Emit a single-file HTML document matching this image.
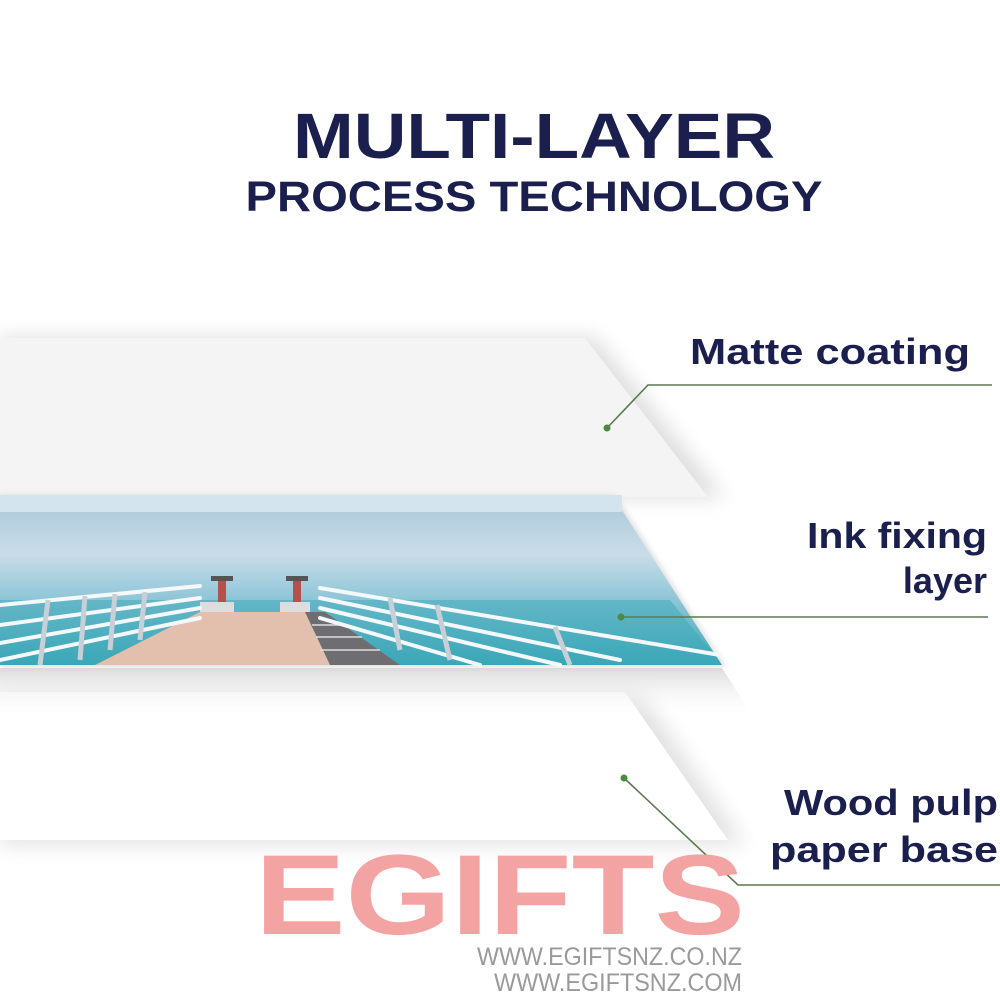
<!DOCTYPE html>
<html><head><meta charset="utf-8"><style>
html,body{margin:0;padding:0;background:#fff;}
svg{display:block}
</style></head><body>
<svg width="1000" height="1000" viewBox="0 0 1000 1000" xmlns="http://www.w3.org/2000/svg">
<defs>
<filter id="blur8" x="-20%" y="-20%" width="140%" height="140%"><feGaussianBlur stdDeviation="10"/></filter>
<filter id="blur3"><feGaussianBlur stdDeviation="3"/></filter>
<linearGradient id="sky" x1="0" y1="0" x2="0" y2="1">
<stop offset="0" stop-color="#a9c6d8"/><stop offset="0.35" stop-color="#c9dde8"/><stop offset="0.55" stop-color="#9ccbdc"/><stop offset="1" stop-color="#3aa7b8"/>
</linearGradient>
<linearGradient id="shadowg" x1="0" y1="0" x2="0" y2="1">
<stop offset="0" stop-color="#dcdcdc"/><stop offset="1" stop-color="#ffffff" stop-opacity="0"/>
</linearGradient>
</defs>
<polygon points="0,337 595,337 725,498 0,498" fill="#dedede" filter="url(#blur8)"/>
<polygon points="0,338 585,338 708,497 0,497" fill="#f4f4f4"/>
<polygon points="0,690 640,690 745,845 0,845" fill="#e2e2e2" filter="url(#blur8)"/>
<polygon points="0,692 625,692 728,840 0,840" fill="#ffffff"/>
<polygon points="0,668 722,668 754,718 0,718" fill="url(#shadowg)"/>
<polygon points="0,495 615,495 726,667 0,667" fill="#d0d0d0" filter="url(#blur3)" opacity="0.7"/>
<polygon points="0,495 612,495 722,665 0,665" fill="url(#sky)"/>
<rect x="0" y="495" width="622" height="17" fill="#d4e4ee"/>
<polygon points="0,600 670,600 722,665 0,665" fill="#3aa8b8" opacity="0.5"/>
<polygon points="200,612 310,612 330,665 95,665" fill="#e3bfae"/>
<polygon points="305,612 325,612 400,665 330,665" fill="#6e6e72"/>
<g stroke="#ddd" stroke-width="1.5">
<line x1="312" y1="625" x2="345" y2="625"/><line x1="316" y1="637" x2="362" y2="637"/><line x1="320" y1="650" x2="380" y2="650"/>
</g>
<rect x="218" y="578" width="8" height="24" fill="#b5514a"/><rect x="211" y="576" width="22" height="5" fill="#555"/>
<rect x="293" y="578" width="8" height="24" fill="#b5514a"/><rect x="286" y="576" width="22" height="5" fill="#555"/>
<rect x="200" y="602" width="34" height="10" fill="#ddd"/><rect x="280" y="602" width="30" height="10" fill="#ddd"/>
<g stroke="#f4f8fa" stroke-width="4" fill="none" stroke-linecap="round">
<line x1="0" y1="605" x2="200" y2="586"/><line x1="0" y1="625" x2="200" y2="598"/><line x1="0" y1="643" x2="200" y2="608"/><line x1="0" y1="660" x2="200" y2="618"/>
<line x1="320" y1="588" x2="720" y2="655"/><line x1="320" y1="598" x2="620" y2="660"/><line x1="320" y1="608" x2="560" y2="665"/><line x1="320" y1="618" x2="480" y2="665"/>
</g>
<g stroke="#c8cfd6" stroke-width="5">
<line x1="48" y1="600" x2="40" y2="665"/><line x1="85" y1="596" x2="80" y2="660"/><line x1="115" y1="594" x2="110" y2="650"/><line x1="145" y1="592" x2="140" y2="640"/>
<line x1="390" y1="598" x2="400" y2="650"/><line x1="437" y1="605" x2="450" y2="660"/><line x1="555" y1="627" x2="570" y2="665"/>
</g>
<g stroke="#5a7a4e" stroke-width="1.6" fill="none">
<polyline points="607,428 648,385 992,385"/>
<polyline points="621,617 988,617"/>
<polyline points="624,778 738,885 1000,885"/>
</g>
<g fill="#4e8a3e"><circle cx="607" cy="428" r="3.5"/><circle cx="621" cy="617" r="3.5"/><circle cx="624" cy="778" r="3.5"/></g>
<g font-family="'Liberation Sans', sans-serif" font-weight="bold" fill="#1a1f4e">
<text x="534" y="158" font-size="64" text-anchor="middle" textLength="482" lengthAdjust="spacingAndGlyphs">MULTI-LAYER</text>
<text x="534" y="211" font-size="43" text-anchor="middle" textLength="577" lengthAdjust="spacingAndGlyphs">PROCESS TECHNOLOGY</text>
<g font-size="36" text-anchor="end">
<text x="970" y="364" textLength="280" lengthAdjust="spacingAndGlyphs">Matte coating</text>
<text x="987" y="548" textLength="180" lengthAdjust="spacingAndGlyphs">Ink fixing</text>
<text x="987" y="593">layer</text>
<text x="998" y="815" textLength="214" lengthAdjust="spacingAndGlyphs">Wood pulp</text>
<text x="998" y="862" textLength="228" lengthAdjust="spacingAndGlyphs">paper base</text>
</g>
</g>
<text x="255" y="934" font-family="'Liberation Sans', sans-serif" font-weight="bold" font-size="114" fill="#f4a3a3" textLength="490" lengthAdjust="spacingAndGlyphs">EGIFTS</text>
<g font-family="'Liberation Sans', sans-serif" font-size="25" fill="#9a9a9a">
<text x="477" y="965" textLength="265" lengthAdjust="spacingAndGlyphs">WWW.EGIFTSNZ.CO.NZ</text>
<text x="494" y="991" textLength="248" lengthAdjust="spacingAndGlyphs">WWW.EGIFTSNZ.COM</text>
</g>
</svg>
</body></html>
